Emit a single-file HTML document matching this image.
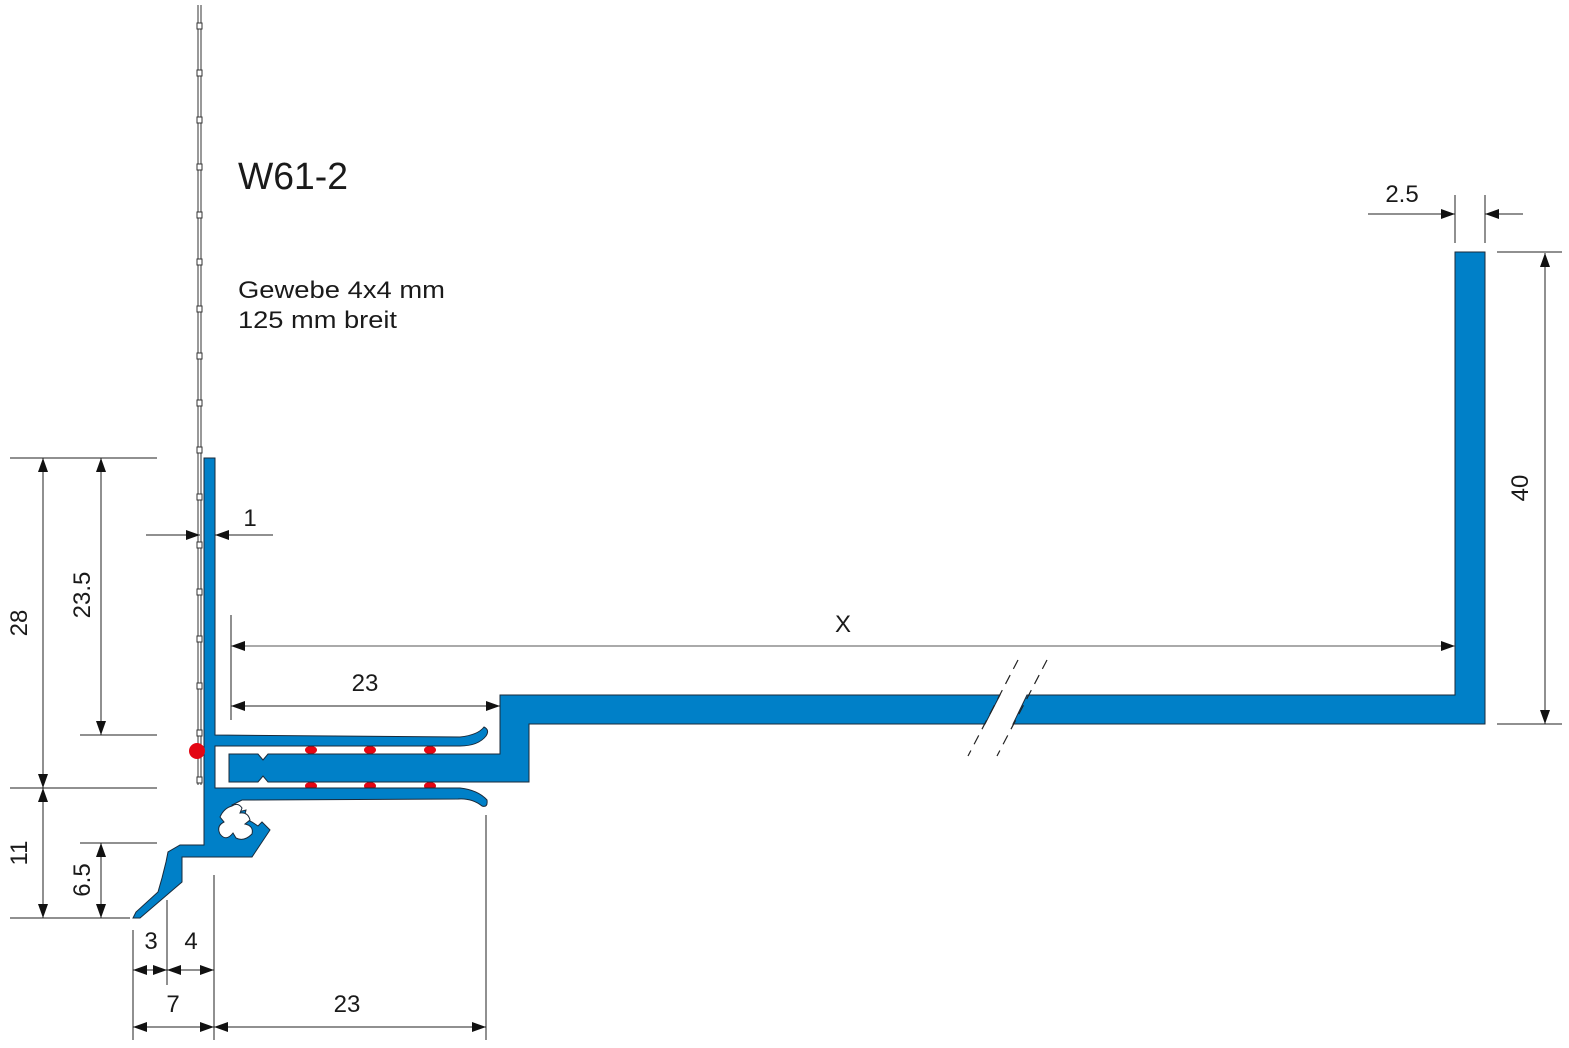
<!DOCTYPE html>
<html><head><meta charset="utf-8"><style>
html,body{margin:0;padding:0;background:#fff;}
svg{display:block;font-family:"Liberation Sans",sans-serif;}
</style></head><body>
<svg width="1569" height="1048" viewBox="0 0 1569 1048" xmlns="http://www.w3.org/2000/svg">
<defs>
<marker id="a" markerWidth="14" markerHeight="10" refX="14" refY="5" orient="auto" markerUnits="userSpaceOnUse"><path d="M0,0 L14,5 L0,10 Z" fill="#111"/></marker>
<marker id="b" markerWidth="14" markerHeight="10" refX="0" refY="5" orient="auto" markerUnits="userSpaceOnUse"><path d="M14,0 L0,5 L14,10 Z" fill="#111"/></marker>
</defs>
<!-- mesh -->
<line x1="198" y1="5" x2="198" y2="785" stroke="#333" stroke-width="1"/>
<line x1="201" y1="5" x2="201" y2="785" stroke="#333" stroke-width="1"/>
<g fill="#fff" stroke="#333" stroke-width="1">
<rect x="197" y="23" width="5" height="6"/><rect x="197" y="70" width="5" height="6"/><rect x="197" y="117" width="5" height="6"/><rect x="197" y="164" width="5" height="6"/><rect x="197" y="212" width="5" height="6"/><rect x="197" y="259" width="5" height="6"/><rect x="197" y="306" width="5" height="6"/><rect x="197" y="353" width="5" height="6"/><rect x="197" y="400" width="5" height="6"/><rect x="197" y="447" width="5" height="6"/><rect x="197" y="494" width="5" height="6"/><rect x="197" y="542" width="5" height="6"/><rect x="197" y="589" width="5" height="6"/><rect x="197" y="636" width="5" height="6"/><rect x="197" y="683" width="5" height="6"/><rect x="197" y="730" width="5" height="6"/><rect x="197" y="777" width="5" height="6"/>
</g>
<!-- red bumps -->
<g fill="#e30613">
<ellipse cx="311" cy="750" rx="6" ry="4"/><ellipse cx="370" cy="750" rx="6" ry="4"/><ellipse cx="430" cy="750" rx="6" ry="4"/>
<ellipse cx="311" cy="786" rx="6" ry="4"/><ellipse cx="370" cy="786" rx="6" ry="4"/><ellipse cx="430" cy="786" rx="6" ry="4"/>
</g>
<g fill="#0080c8" stroke="#1a2a3a" stroke-width="1">
<path d="M204,458 L215,458 L215,735 L460,737 Q478,735 484,727 Q490,730 486,736 Q478,746 460,746 L215,746 L215,788 L460,788 Q478,790 487,800 Q488,808 482,806 Q472,798 458,799 L242,800 L232,805 L238,812 L246,810 L244,818 L252,822 L258,826 L262,822 L270,830 L252,857 L182,857 L182,882 L140,918 L133,918 L136,912 L158,892 L162,878 L166,862 L168,852 L180,845 L204,845 Z"/>
<path d="M229,754 L258,754 L263,760 L268,754 L500,754 L500,695 L1000,695 L985,724 L529,724 L529,782 L268,782 L263,776 L258,782 L229,782 Z"/>
<path d="M1027,695 L1455,695 L1455,252 L1485,252 L1485,724 L1013,724 Z"/>
</g>
<!-- clover hole -->
<path d="M232,806 Q238,802 242,808 L240,813 Q248,812 250,820 L245,824 Q254,826 252,834 Q244,842 236,838 L233,833 Q226,842 220,834 Q216,826 224,822 L220,817 Q224,808 232,806 Z" fill="#fff" stroke="#1a2a3a" stroke-width="1"/>
<circle cx="197" cy="751" r="8" fill="#e30613"/>
<!-- break lines -->
<g stroke="#222" stroke-width="1.2" stroke-dasharray="10,7">
<line x1="1018" y1="660" x2="968" y2="756"/><line x1="1047" y1="660" x2="997" y2="756"/>
</g>
<g stroke="#222" stroke-width="1">
<line x1="10" y1="458" x2="157" y2="458"/><line x1="80" y1="735" x2="157" y2="735"/>
<line x1="10" y1="788" x2="157" y2="788"/><line x1="80" y1="843" x2="157" y2="843"/>
<line x1="10" y1="918" x2="130" y2="918"/>
<line x1="133" y1="930" x2="133" y2="1040"/><line x1="167" y1="900" x2="167" y2="985"/>
<line x1="214" y1="875" x2="214" y2="1040"/><line x1="486" y1="815" x2="486" y2="1040"/>
<line x1="231" y1="615" x2="231" y2="720"/>
<line x1="1455" y1="195" x2="1455" y2="243"/><line x1="1485" y1="195" x2="1485" y2="243"/>
<line x1="1497" y1="252" x2="1562" y2="252"/><line x1="1497" y1="724" x2="1562" y2="724"/>
<line x1="146" y1="535" x2="200" y2="535" marker-end="url(#a)"/>
<line x1="215" y1="535" x2="273" y2="535" marker-start="url(#b)"/>
<line x1="1368" y1="214" x2="1455" y2="214" marker-end="url(#a)"/>
<line x1="1485" y1="214" x2="1523" y2="214" marker-start="url(#b)"/>
<line x1="43" y1="458" x2="43" y2="788" marker-start="url(#b)" marker-end="url(#a)"/>
<line x1="43" y1="788" x2="43" y2="918" marker-start="url(#b)" marker-end="url(#a)"/>
<line x1="101" y1="458" x2="101" y2="735" marker-start="url(#b)" marker-end="url(#a)"/>
<line x1="101" y1="843" x2="101" y2="918" marker-start="url(#b)" marker-end="url(#a)"/>
<line x1="133" y1="970" x2="167" y2="970" marker-start="url(#b)" marker-end="url(#a)"/>
<line x1="167" y1="970" x2="214" y2="970" marker-start="url(#b)" marker-end="url(#a)"/>
<line x1="133" y1="1027" x2="214" y2="1027" marker-start="url(#b)" marker-end="url(#a)"/>
<line x1="214" y1="1027" x2="486" y2="1027" marker-start="url(#b)" marker-end="url(#a)"/>
<line x1="231" y1="646" x2="1455" y2="646" marker-start="url(#b)" marker-end="url(#a)" stroke="#555"/>
<line x1="231" y1="706" x2="500" y2="706" marker-start="url(#b)" marker-end="url(#a)"/>
<line x1="1545" y1="253" x2="1545" y2="724" marker-start="url(#b)" marker-end="url(#a)"/>
</g>
<g fill="#1a1a1a" font-size="24">
<text x="238" y="189" font-size="38" textLength="110" lengthAdjust="spacingAndGlyphs">W61-2</text>
<text x="238" y="298" textLength="207" lengthAdjust="spacingAndGlyphs">Gewebe 4x4 mm</text>
<text x="238" y="328" textLength="159" lengthAdjust="spacingAndGlyphs">125 mm breit</text>
<text x="250" y="526" text-anchor="middle">1</text>
<text x="1402" y="202" text-anchor="middle">2.5</text>
<text x="843" y="632" text-anchor="middle">X</text>
<text x="365" y="691" text-anchor="middle">23</text>
<text x="151" y="949" text-anchor="middle">3</text>
<text x="191" y="949" text-anchor="middle">4</text>
<text x="173" y="1012" text-anchor="middle">7</text>
<text x="347" y="1012" text-anchor="middle">23</text>
<text transform="translate(27,623) rotate(-90)" text-anchor="middle">28</text>
<text transform="translate(90,595) rotate(-90)" text-anchor="middle">23.5</text>
<text transform="translate(27,853) rotate(-90)" text-anchor="middle">11</text>
<text transform="translate(90,880) rotate(-90)" text-anchor="middle">6.5</text>
<text transform="translate(1528,488) rotate(-90)" text-anchor="middle">40</text>
</g>
</svg>
</body></html>
